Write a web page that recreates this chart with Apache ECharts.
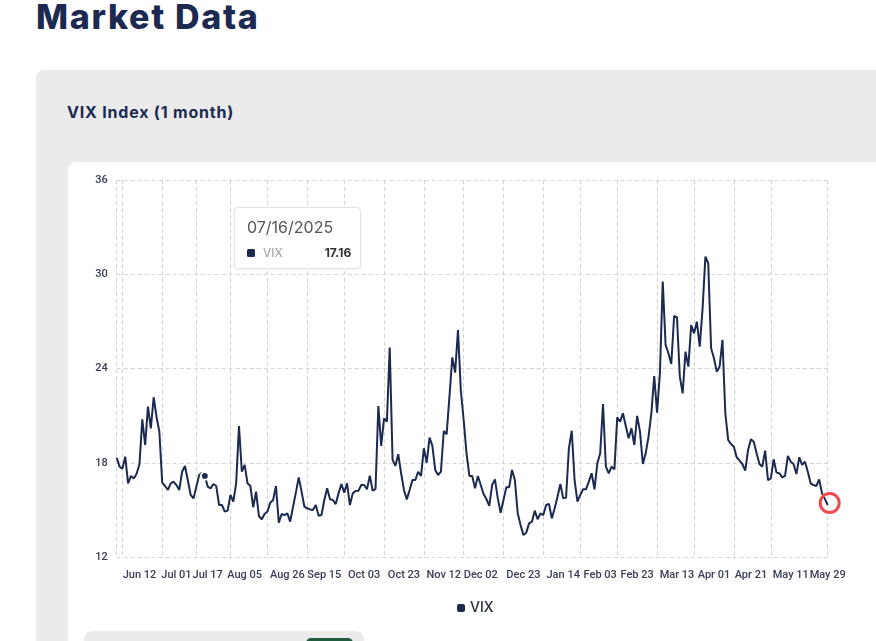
<!DOCTYPE html>
<html>
<head>
<meta charset="utf-8">
<title>Market Data</title>
<script src="https://cdn.jsdelivr.net/npm/echarts@6/dist/echarts.min.js"></script>
<style>
html, body { margin: 0; padding: 0; width: 876px; height: 641px; overflow: hidden; background: #fff; font-family: Inter, "Noto Sans", sans-serif; }
h1 { position: absolute; left: 36px; top: 0; margin: 0; font-size: 34px; line-height: 34px; font-weight: 800; color: #1c2951; letter-spacing: 1.7px; }
.panel { position: absolute; left: 36px; top: 70px; width: 880px; height: 620px; background: #ebebeb; border-radius: 8px; }
.panel h2 { position: absolute; left: 31px; top: 34px; margin: 0; font-size: 16px; line-height: 16px; font-weight: 700; color: #1c2951; letter-spacing: 0.8px; }
.card { position: absolute; left: 32px; top: 92px; width: 860px; height: 600px; background: #fff; border-radius: 8px; }
.next { position: absolute; left: 84px; top: 631px; width: 280px; height: 40px; background: #ebebeb; border-radius: 8px; }
.next span { position: absolute; left: 222px; top: 7px; width: 47px; height: 30px; background: #1f5b3c; border-radius: 5px; }
#chart { position: absolute; left: 0; top: 0; width: 876px; height: 641px; }
</style>
</head>
<body>
<h1>Market Data</h1>
<div class="panel">
  <h2>VIX Index (1 month)</h2>
  <div class="card"></div>
</div>
<div class="next"><span></span></div>
<div id="chart"></div>
<script>
// trading days shown on the axis
var startDate = '2025-06-02';
var endDate = '2026-05-29';
var marketHolidays = ['2025-07-04', '2025-09-01', '2025-11-27', '2025-12-25',
    '2026-01-01', '2026-01-19', '2026-02-16', '2026-04-03', '2026-05-25'];

var labelDates = ['2025-06-12', '2025-07-01', '2025-07-17', '2025-08-05', '2025-08-26',
    '2025-09-15', '2025-10-03', '2025-10-23', '2025-11-12', '2025-12-02', '2025-12-23',
    '2026-01-14', '2026-02-03', '2026-02-23', '2026-03-13', '2026-04-01', '2026-04-21',
    '2026-05-11', '2026-05-29'];

// vertical dashed grid lines (category index)
var gridTickIdx = [0, 2, 16, 28, 40, 53, 67, 80, 94, 108, 122, 136, 150, 163, 176, 190, 203, 217, 230, 250];

var yTicks = [12, 18, 24, 30, 36];

var vix = [
    18.32, 17.75, 17.62, 18.39, 16.69, 17.16, 17.00, 17.30, 17.90, 20.77,
    19.13, 21.57, 20.19, 22.17, 20.93, 19.98, 16.73, 16.52, 16.27, 16.69,
    16.80, 16.58, 16.27, 17.43, 17.79, 16.90, 15.95, 15.73, 16.48, 17.22,
    17.37, 17.16, 16.48, 16.37, 16.65, 16.52, 15.31, 15.31, 14.89, 14.95,
    15.95, 15.52, 16.69, 20.34, 17.43, 17.86, 16.69, 16.52, 15.16, 16.16,
    14.61, 14.40, 14.74, 14.89, 15.46, 15.63, 16.52, 14.18, 14.74, 14.67,
    14.78, 14.25, 15.20, 16.10, 17.07, 16.16, 15.20, 15.10, 15.03, 14.99,
    15.31, 14.63, 14.67, 15.63, 16.37, 15.67, 15.63, 15.37, 16.05, 16.65,
    16.10, 16.69, 15.31, 16.05, 16.20, 16.22, 16.58, 16.58, 16.31, 17.18,
    16.22, 16.33, 21.61, 19.07, 20.83, 20.62, 25.33, 18.18, 17.81, 18.54,
    17.33, 16.27, 15.67, 16.27, 16.90, 16.90, 17.43, 17.16, 18.92, 18.00,
    19.60, 19.07, 17.54, 17.22, 17.43, 20.02, 19.81, 22.21, 24.71, 23.74,
    26.45, 22.60, 20.72, 18.60, 17.16, 17.16, 16.37, 17.16, 16.58, 16.01,
    15.69, 15.25, 16.58, 16.94, 15.73, 14.82, 15.63, 16.44, 16.44, 17.54,
    16.90, 14.78, 14.04, 13.40, 13.55, 14.14, 14.25, 14.95, 14.40, 14.78,
    14.67, 15.31, 15.37, 14.46, 15.10, 15.84, 16.65, 15.73, 15.78, 18.92,
    20.04, 16.90, 15.52, 15.95, 16.31, 16.31, 16.80, 17.33, 16.31, 17.96,
    18.60, 21.74, 17.75, 17.33, 17.75, 17.58, 20.89, 20.62, 21.15, 20.34,
    19.56, 20.19, 19.13, 20.98, 19.98, 17.92, 18.60, 19.66, 21.15, 23.52,
    21.19, 23.69, 29.53, 25.50, 24.97, 24.29, 27.34, 27.26, 23.48, 22.42,
    25.07, 24.12, 26.77, 26.24, 26.98, 25.39, 27.80, 31.12, 30.70, 25.29,
    24.65, 23.80, 24.12, 25.82, 21.15, 19.45, 19.19, 19.02, 18.35, 18.13,
    17.92, 17.50, 18.81, 19.49, 19.34, 18.60, 17.92, 17.75, 18.77, 16.90,
    17.01, 18.22, 17.37, 17.33, 17.07, 17.16, 18.43, 18.07, 17.92, 17.28,
    18.35, 17.86, 18.07, 17.43, 16.69, 16.58, 16.52, 16.94, 16.05, 15.70,
    15.31
];

var tipIndex = 31;

function getDateList() {
    var list = [];
    var d = new Date(startDate + 'T00:00:00Z');
    var end = new Date(endDate + 'T00:00:00Z');
    while (d <= end) {
        var s = d.toISOString().slice(0, 10);
        var wd = d.getUTCDay();
        if (wd !== 0 && wd !== 6 && marketHolidays.indexOf(s) < 0) {
            list.push(s);
        }
        d.setUTCDate(d.getUTCDate() + 1);
    }
    return list;
}

var months = ['Jan', 'Feb', 'Mar', 'Apr', 'May', 'Jun', 'Jul', 'Aug', 'Sep', 'Oct', 'Nov', 'Dec'];
function shortDate(s) {
    return months[+s.slice(5, 7) - 1] + ' ' + s.slice(8, 10);
}
function usDate(s) {
    return s.slice(5, 7) + '/' + s.slice(8, 10) + '/' + s.slice(0, 4);
}

var dates = getDateList();
var navy = '#1c2951';

var seriesData = vix.map(function (v, i) {
    if (i === tipIndex) {
        return { value: v, symbol: 'circle', symbolSize: 7,
            itemStyle: { color: navy, borderColor: '#fff', borderWidth: 2 } };
    }
    if (i === vix.length - 1) {
        return { value: v, symbol: 'circle', symbolSize: 19, symbolOffset: [2, -2],
            itemStyle: { color: 'rgba(0,0,0,0)', borderColor: '#f04a4c', borderWidth: 3 } };
    }
    return v;
});

var myChart = echarts.init(document.querySelector('#chart'));
var option = {
    animation: false,
    color: [navy],
    grid: { left: 116.7, right: 48.3, top: 180, bottom: 84 },
    tooltip: {
        trigger: 'axis',
        axisPointer: { type: 'none' },
        alwaysShowContent: true,
        transitionDuration: 0,
        position: [234, 207],
        backgroundColor: '#fff',
        borderColor: '#e2e2e2',
        borderWidth: 1,
        padding: [9, 9, 8, 12],
        extraCssText: 'border-radius:4px;box-shadow:0 1px 3px rgba(0,0,0,0.06);',
        formatter: function (params) {
            var p = params[0];
            return '<div style="font-family:Inter;font-size:16px;line-height:20px;color:#555">' + usDate(p.name) + '</div>' +
                '<div style="font-family:Inter;margin-top:9px;display:flex;align-items:center;font-size:12px;line-height:14px">' +
                '<span style="display:inline-block;width:8px;height:8px;border-radius:1.5px;background:' + navy + ';margin-right:8px"></span>' +
                '<span style="color:#9a9a9a">VIX</span>' +
                '<span style="margin-left:auto;padding-left:42px;font-weight:700;color:#333">' + p.value.toFixed(2) + '</span></div>';
        }
    },
    legend: {
        left: 452,
        top: 596,
        icon: 'roundRect',
        itemWidth: 8,
        itemHeight: 8,
        textStyle: { fontFamily: 'Inter', fontSize: 14, fontWeight: 500, color: '#252a3c' },
        data: ['VIX']
    },
    xAxis: {
        type: 'category',
        data: dates,
        boundaryGap: false,
        axisLine: { show: false },
        axisTick: { show: false },
        axisLabel: {
            interval: function (i, v) { return labelDates.indexOf(v) >= 0; },
            formatter: shortDate,
            showMinLabel: true,
            showMaxLabel: true,
            hideOverlap: false,
            color: '#384058',
            fontFamily: 'Roboto',
            fontSize: 11,
            fontWeight: 500,
            margin: 13
        },
        splitLine: {
            show: true,
            interval: function (i) { return gridTickIdx.indexOf(i) >= 0; },
            lineStyle: { color: '#d4d4d4', type: [4, 3], width: 1 }
        }
    },
    yAxis: {
        type: 'value',
        min: yTicks[0],
        max: yTicks[yTicks.length - 1],
        interval: yTicks[1] - yTicks[0],
        axisLine: { show: false },
        axisTick: { show: false },
        axisLabel: { color: '#384058', fontFamily: 'Roboto', fontSize: 11, fontWeight: 500, margin: 9 },
        splitLine: { lineStyle: { color: '#d4d4d4', type: [4, 3], width: 1 } }
    },
    series: [
        {
            name: 'VIX',
            type: 'line',
            data: seriesData,
            symbol: 'none',
            showSymbol: true,
            showAllSymbol: true,
            lineStyle: { color: navy, width: 2 },
            itemStyle: { color: navy },
            emphasis: { disabled: true }
        }
    ]
};

myChart.setOption(option, true);
myChart.dispatchAction({ type: 'showTip', seriesIndex: 0, dataIndex: tipIndex });
</script>
</body>
</html>
